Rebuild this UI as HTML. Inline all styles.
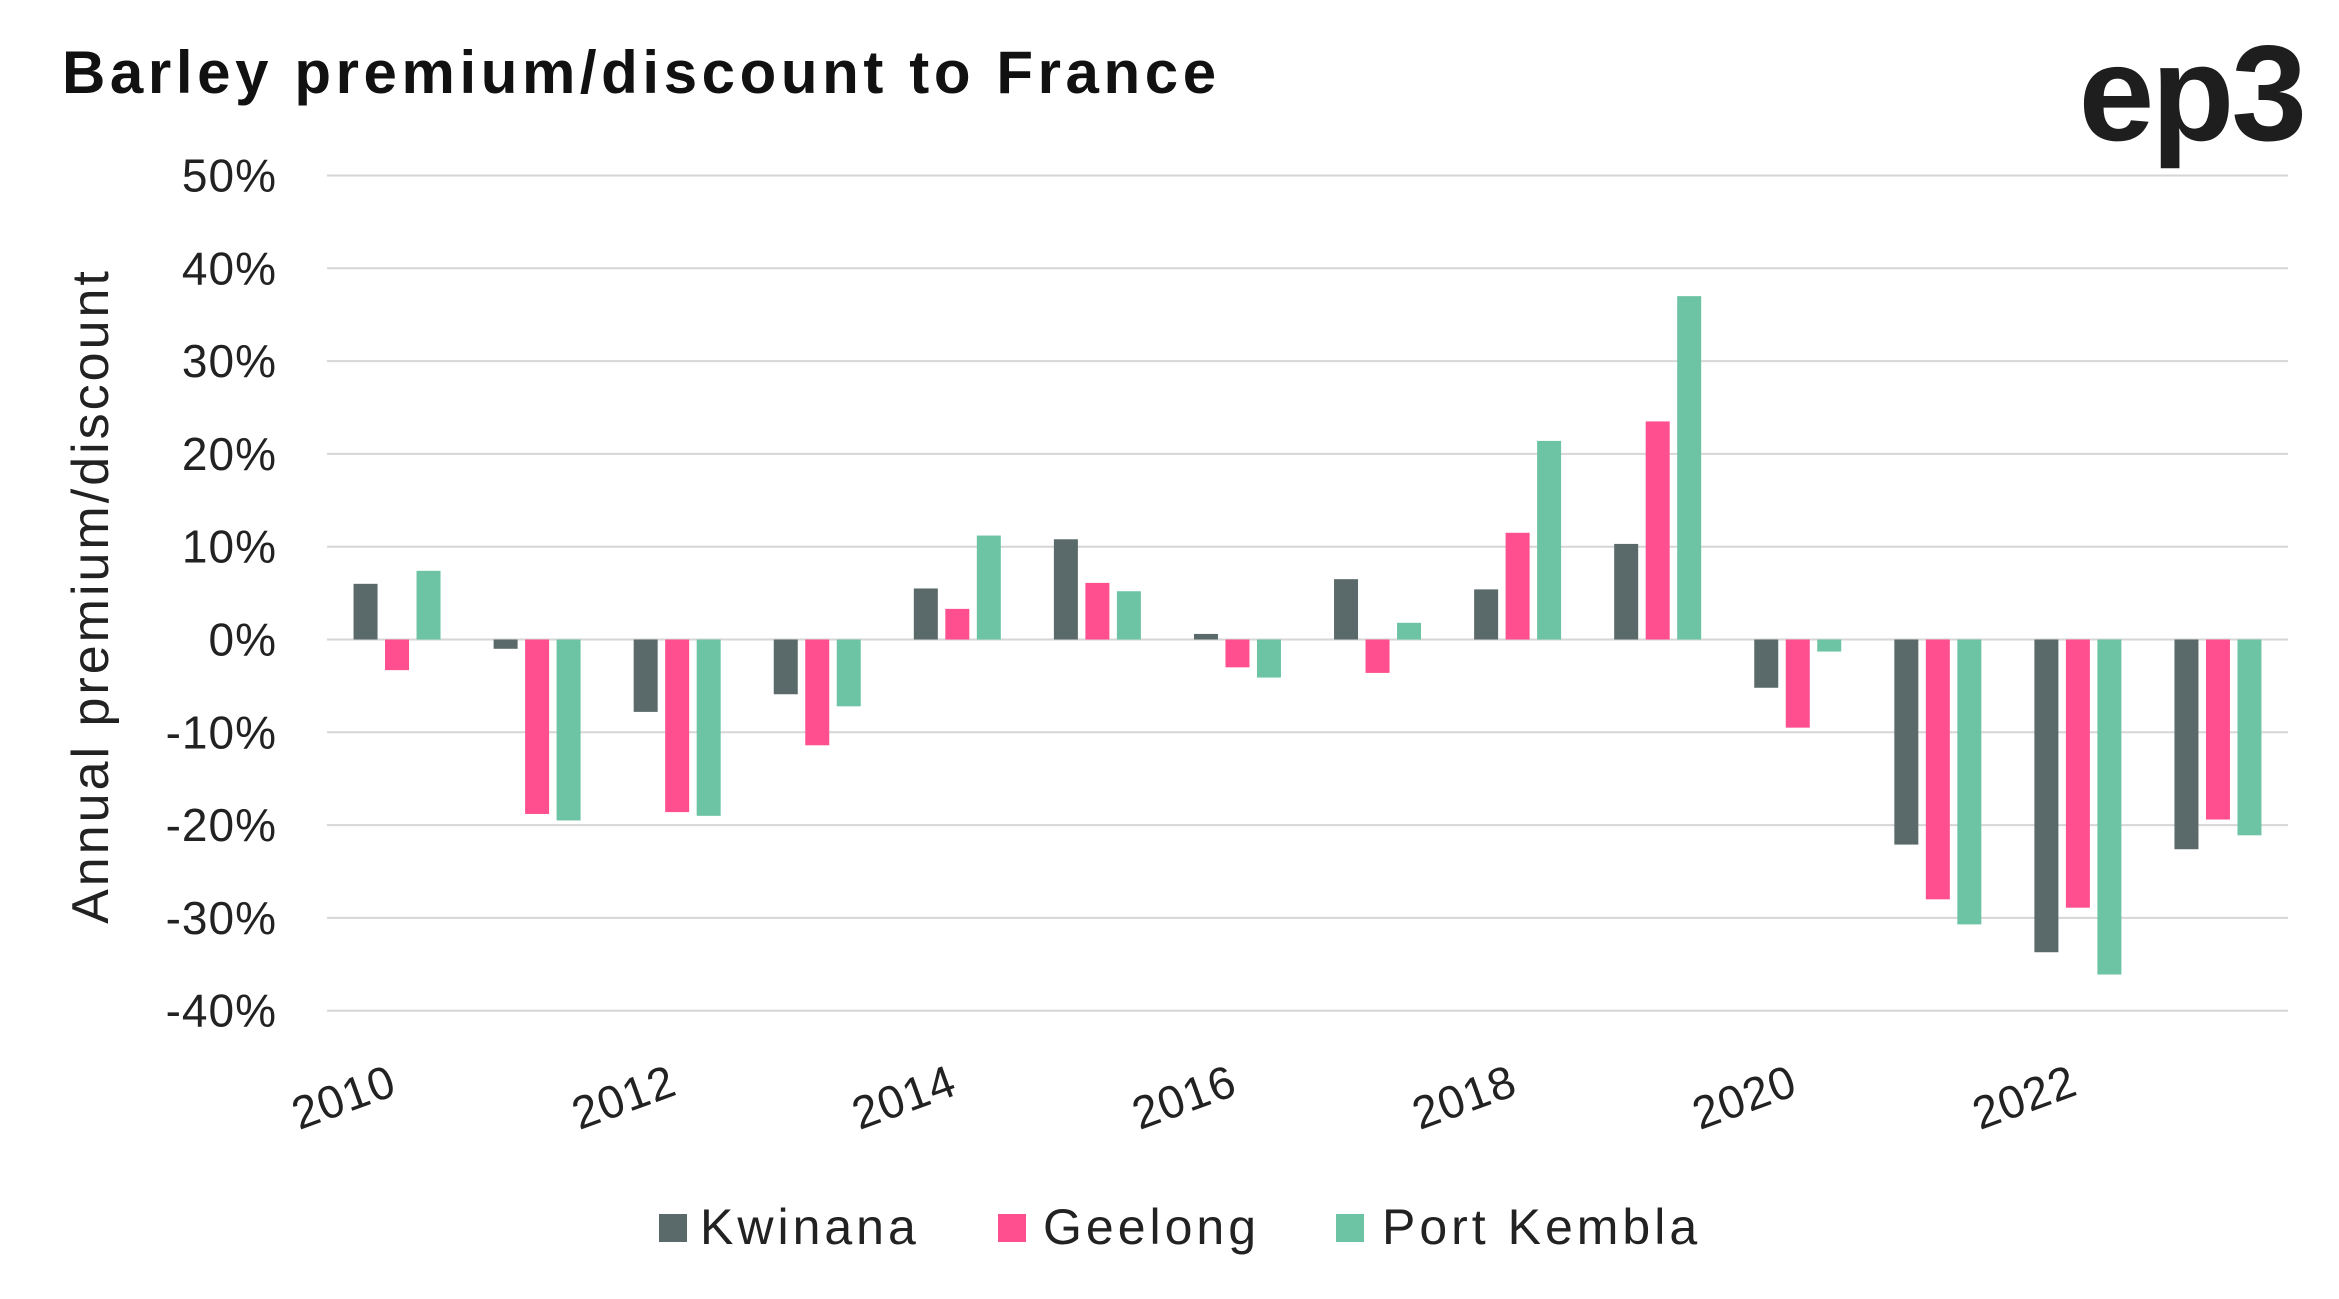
<!DOCTYPE html>
<html><head><meta charset="utf-8"><style>
html,body{margin:0;padding:0;background:#fff;}
svg{display:block;font-family:"Liberation Sans",sans-serif;}
</style></head><body>
<svg id="chart" width="2339" height="1299" viewBox="0 0 2339 1299">
<text x="62" y="93" font-size="60" font-weight="bold" letter-spacing="4.6" fill="#111">Barley premium/discount to France</text>
<text x="2304" y="140" text-anchor="end" font-size="136" font-weight="bold" fill="#1e1e1e" letter-spacing="-3">ep3</text>
<text transform="translate(108,596) rotate(-90)" text-anchor="middle" font-size="52" letter-spacing="3" fill="#222">Annual premium/discount</text>
<g id="grid"></g><g id="bars"></g><g id="xt"></g>
<g>
<rect x="659" y="1214" width="28" height="28" fill="#5a6a6a"/>
<text x="700" y="1244" font-size="50" letter-spacing="4" fill="#222">Kwinana</text>
<rect x="998" y="1214" width="28" height="28" fill="#ff4f8f"/>
<text x="1043" y="1244" font-size="50" letter-spacing="4" fill="#222">Geelong</text>
<rect x="1336" y="1214" width="28" height="28" fill="#6cc4a4"/>
<text x="1382" y="1244" font-size="50" letter-spacing="4" fill="#222">Port Kembla</text>
</g>
</svg>
<script>
const years=[2010,2011,2012,2013,2014,2015,2016,2017,2018,2019,2020,2021,2022,2023];
const kwinana=[6,-1,-7.8,-5.9,5.5,10.8,0.6,6.5,5.4,10.3,-5.2,-22.1,-33.7,-22.6];
const geelong=[-3.3,-18.8,-18.6,-11.4,3.3,6.1,-3,-3.6,11.5,23.5,-9.5,-28,-28.9,-19.4];
const portKembla=[7.4,-19.5,-19,-7.2,11.2,5.2,-4.1,1.8,21.4,37,-1.3,-30.7,-36.1,-21.1];
const yTicks=[50,40,30,20,10,0,-10,-20,-30,-40];
const xLabels=[2010,2012,2014,2016,2018,2020,2022];
const NS="http://www.w3.org/2000/svg";
const x0=327,x1=2288,gw=(x1-x0)/years.length;
function y(v){return 639.5-v*9.28;}
function gx(i){return x0+gw*(i+0.5);}
const grid=document.getElementById('grid');
yTicks.forEach(t=>{
 const l=document.createElementNS(NS,'line');
 l.setAttribute('x1',x0);l.setAttribute('x2',x1);l.setAttribute('y1',y(t));l.setAttribute('y2',y(t));
 l.setAttribute('stroke','#d6d6d6');l.setAttribute('stroke-width','2');
 
 
 grid.appendChild(l);
 const tx=document.createElementNS(NS,'text');
 tx.setAttribute('x',277);tx.setAttribute('y',y(t)+16);tx.setAttribute('text-anchor','end');
 tx.setAttribute('font-size','46');tx.setAttribute('letter-spacing','1');tx.setAttribute('fill','#222');tx.textContent=t+'%';
 
 
 grid.appendChild(tx);
});
const series=[[kwinana,'#5a6a6a','kwinana'],[geelong,'#ff4f8f','geelong'],[portKembla,'#6cc4a4','port-kembla']];
const bars=document.getElementById('bars');
years.forEach((yr,i)=>{
 series.forEach((s,j)=>{
  const v=s[0][i];const r=document.createElementNS(NS,'rect');
  const cx=gx(i)+(j-1)*31.5;
  r.setAttribute('x',cx-12);r.setAttribute('width',24);
  r.setAttribute('y',Math.min(y(v),y(0)));r.setAttribute('height',Math.abs(y(v)-y(0)));
  r.setAttribute('fill',s[1]);
  
  
  bars.appendChild(r);
 });
});
const xt=document.getElementById('xt');
xLabels.forEach(lab=>{
 const i=years.indexOf(lab);const t=document.createElementNS(NS,'text');
 const cx=gx(i)-48,cy=1112;
 t.setAttribute('transform','translate('+cx+','+cy+') rotate(-20)');
 t.setAttribute('text-anchor','middle');t.setAttribute('font-size','46');t.setAttribute('letter-spacing','1');t.setAttribute('fill','#222');
 t.textContent=lab;
 
 
 xt.appendChild(t);
});
</script>
</body></html>
